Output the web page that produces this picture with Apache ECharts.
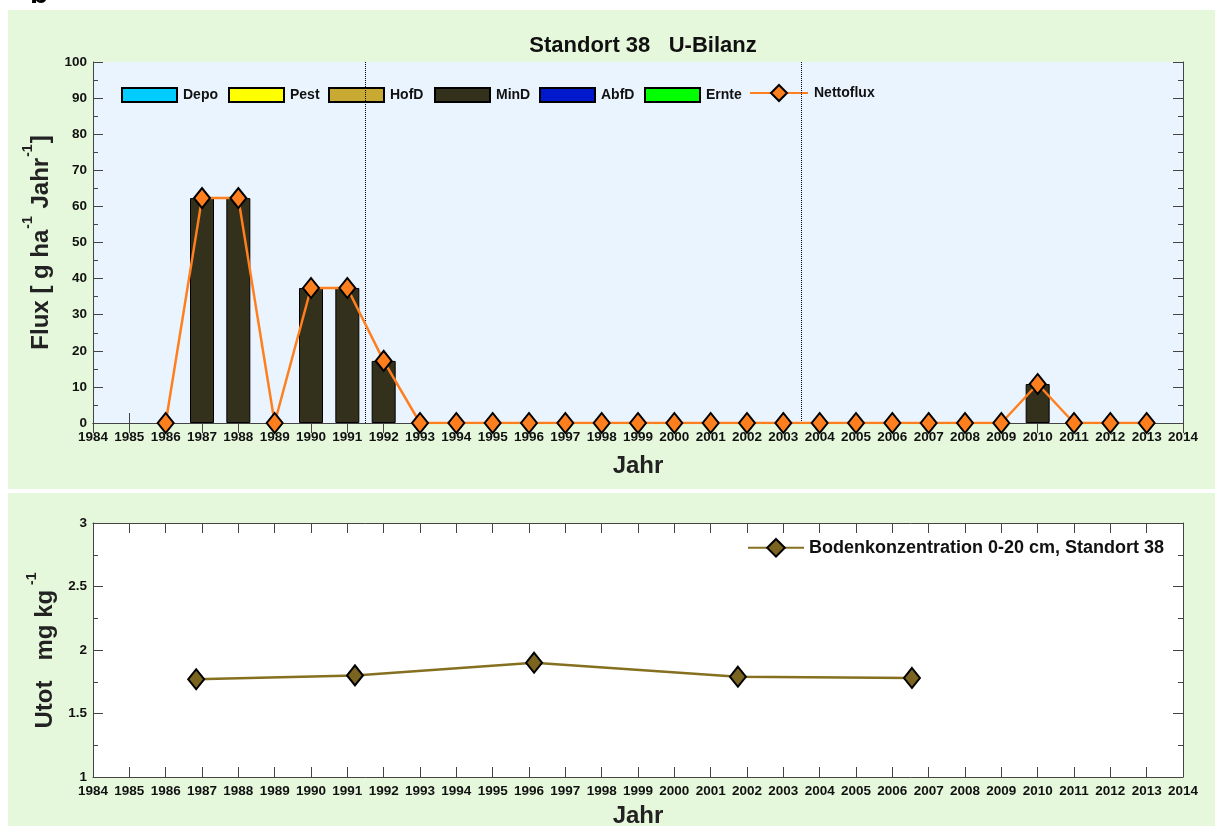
<!DOCTYPE html>
<html>
<head>
<meta charset="utf-8">
<script src="https://cdn.jsdelivr.net/npm/echarts@6/dist/echarts.min.js"></script>
<style>
  html, body { margin: 0; padding: 0; background: #fff; }
  #chart { width: 1215px; height: 826px; }
</style>
</head>
<body>
<div id="chart"></div>
<script>
// Daten
const fluxYears = [1986, 1987, 1988, 1989, 1990, 1991, 1992, 1993, 1994, 1995, 1996, 1997, 1998, 1999,
  2000, 2001, 2002, 2003, 2004, 2005, 2006, 2007, 2008, 2009, 2010, 2011, 2012, 2013];
const nettoflux = [0, 62.3, 62.3, 0, 37.4, 37.4, 17.2, 0, 0, 0, 0, 0, 0, 0,
  0, 0, 0, 0, 0, 0, 0, 0, 0, 0, 10.8, 0, 0, 0];
const mindYears = [1987, 1988, 1990, 1991, 1992, 2010];
const mindValues = [62.3, 62.3, 37.4, 37.4, 17.2, 10.8];
const dividerYears = [1991.5, 2003.5];

const soilYears = [1986.84, 1991.21, 1996.14, 2001.75, 2006.54];
const soilValues = [1.77, 1.80, 1.90, 1.79, 1.78];

const barNames = ['Depo', 'Pest', 'HofD', 'MinD', 'AbfD', 'Ernte'];
const barColors = ['#00CCFF', '#FFFF00', '#C8AA33', '#33301C', '#0019CC', '#00FF00'];
const soilName = 'Bodenkonzentration 0-20 cm, Standort 38';

const FONT = 'Arial, "Liberation Sans", Helvetica, sans-serif';
const AX = '#444';
const TICKFONT = 13.5;

const pair = (xs, ys) => xs.map((x, i) => [x, ys[i]]);

const yearAxis = (grid, pos, labels) => ({
  type: 'value', gridIndex: grid, position: pos,
  min: 1984, max: 2014, interval: 1,
  axisLine: { show: true, lineStyle: { color: AX, width: 1 } },
  axisTick: { show: true, inside: true, length: 10, lineStyle: { color: AX } },
  axisLabel: {
    show: labels, formatter: v => String(v), color: '#111',
    fontFamily: FONT, fontWeight: 'bold', fontSize: TICKFONT, margin: 7
  },
  splitLine: { show: false }
});

const valAxis = (grid, pos, min, max, step, labels) => ({
  type: 'value', gridIndex: grid, position: pos,
  min: min, max: max, interval: step,
  axisLine: { show: true, lineStyle: { color: AX, width: 1 } },
  axisTick: { show: true, inside: true, length: 10, lineStyle: { color: AX } },
  minorTick: { show: true, splitNumber: 2, length: 5, lineStyle: { color: AX } },
  axisLabel: {
    show: labels, formatter: v => String(v), color: '#111',
    fontFamily: FONT, fontWeight: 'bold', fontSize: TICKFONT, margin: 6
  },
  splitLine: { show: false }
});

const nameRich = {
  m: { fontFamily: FONT, fontWeight: 'bold', fontSize: 24, color: '#222', lineHeight: 32, verticalAlign: 'bottom' },
  s: { fontFamily: FONT, fontWeight: 'bold', fontSize: 14, color: '#222', lineHeight: 32, verticalAlign: 'top', padding: [0, 1, 4, 1] }
};
const nameBig = { fontFamily: FONT, fontWeight: 'bold', fontSize: 24, color: '#222' };

const chart = echarts.init(document.getElementById('chart'));

const barSeries = barNames.map((name, i) => ({
  name: name,
  type: 'bar',
  stack: 'bilanz',
  xAxisIndex: 0, yAxisIndex: 0,
  barWidth: 24,
  itemStyle: { color: barColors[i], borderColor: '#000', borderWidth: 1 },
  data: name === 'MinD' ? pair(mindYears, mindValues) : []
}));

// ein Legendenblock pro Eintrag, damit die Abstaende wie im Original sind
const legendLefts = [121, 228, 328, 434, 539, 644, 749];
const topLegends = barNames.concat(['Nettoflux']).map((name, i) => ({
  data: [name],
  left: legendLefts[i], top: name === 'Nettoflux' ? 84 : 87,
  padding: 0,
  icon: name === 'Nettoflux' ? undefined : 'rect',
  itemWidth: name === 'Nettoflux' ? 58 : 55,
  itemHeight: name === 'Nettoflux' ? 20 : 14,
  itemGap: 0,
  textStyle: { fontFamily: FONT, fontWeight: 'bold', fontSize: 14, color: '#111', padding: [0, 0, 0, 1] }
}));

chart.setOption({
  animation: false,
  textStyle: { fontFamily: FONT },
  graphic: [
    { type: 'rect', left: 8, top: 10, shape: { width: 1207, height: 479 }, style: { fill: '#E6F8DC' }, silent: true, z: -10 },
    { type: 'rect', left: 8, top: 493, shape: { width: 1207, height: 333 }, style: { fill: '#E6F8DC' }, silent: true, z: -10 },
    { type: 'text', left: 30, top: -20, style: { text: 'b', fontSize: 30, fontWeight: 'bold', fill: '#000', fontFamily: FONT } }
  ],
  title: {
    text: 'Standort 38   U-Bilanz',
    left: 638, top: 30, textAlign: 'center',
    textStyle: { fontFamily: FONT, fontWeight: 'bold', fontSize: 22, color: '#111' }
  },
  legend: topLegends.concat([
    {
      data: [soilName],
      left: 747, top: 538, padding: 0,
      itemWidth: 56, itemHeight: 22,
      textStyle: { fontFamily: FONT, fontWeight: 'bold', fontSize: 18, color: '#111' }
    }
  ]),
  grid: [
    { left: 93, right: 32, top: 62, bottom: 403, outerBoundsMode: 'none', show: true, backgroundColor: '#EAF4FE', borderWidth: 0 },
    { left: 93, right: 32, top: 523, bottom: 49, outerBoundsMode: 'none', show: true, backgroundColor: '#FFFFFF', borderWidth: 0 }
  ],
  xAxis: [
    Object.assign(yearAxis(0, 'bottom', true), {
      name: 'Jahr', nameLocation: 'middle', nameGap: 31, nameTextStyle: nameBig
    }),
    yearAxis(0, 'top', false),
    Object.assign(yearAxis(1, 'bottom', true), {
      name: 'Jahr', nameLocation: 'middle', nameGap: 27, nameTextStyle: nameBig
    }),
    yearAxis(1, 'top', false)
  ],
  yAxis: [
    Object.assign(valAxis(0, 'left', 0, 100, 10, true), {
      name: '{m|Flux [ g ha}{s|-1}{m| Jahr}{s|-1}{m|]}', nameLocation: 'middle', nameGap: 36,
      nameTextStyle: { rich: nameRich }
    }),
    valAxis(0, 'right', 0, 100, 10, false),
    Object.assign(valAxis(1, 'left', 1, 3, 0.5, true), {
      name: '{m|Utot   mg kg}{s| -1}', nameLocation: 'middle', nameGap: 36,
      nameTextStyle: { rich: nameRich }
    }),
    valAxis(1, 'right', 1, 3, 0.5, false)
  ],
  series: barSeries.concat([
    {
      name: 'Nettoflux',
      type: 'line',
      xAxisIndex: 0, yAxisIndex: 0,
      data: pair(fluxYears, nettoflux),
      lineStyle: { color: '#FF7F1E', width: 2.5 },
      itemStyle: { color: '#FF7F1E', borderColor: '#000', borderWidth: 2 },
      symbol: 'diamond', symbolSize: [16, 20],
      z: 5,
      markLine: {
        silent: true, symbol: 'none',
        label: { show: false },
        lineStyle: { color: '#000', type: 'dotted', width: 1 },
        data: dividerYears.map(x => ({ xAxis: x }))
      }
    },
    {
      name: soilName,
      type: 'line',
      xAxisIndex: 2, yAxisIndex: 2,
      data: pair(soilYears, soilValues),
      lineStyle: { color: '#84701F', width: 2.5 },
      itemStyle: { color: '#7A6420', borderColor: '#000', borderWidth: 2 },
      symbol: 'diamond', symbolSize: [16, 20]
    }
  ])
});
</script>
</body>
</html>
